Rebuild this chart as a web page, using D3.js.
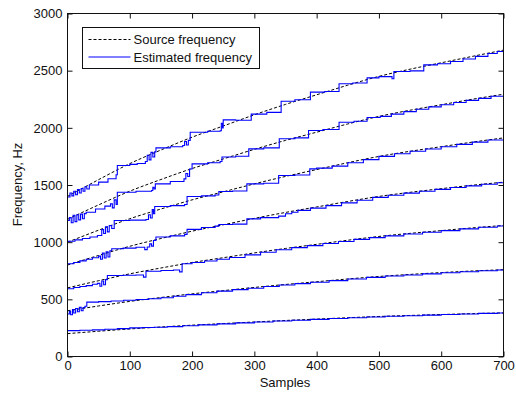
<!DOCTYPE html>
<html>
<head>
<meta charset="utf-8">
<script src="https://cdn.jsdelivr.net/npm/d3@7"></script>
<style>
  body { margin: 0; background: #fff; }
  svg { display: block; font-family: "Liberation Sans", Arial, sans-serif; }
</style>
</head>
<body>
<svg id="chart" width="516" height="394"></svg>
<script>
// axis ticks
const xTicks = [0, 100, 200, 300, 400, 500, 600, 700];
const yTicks = [0, 500, 1000, 1500, 2000, 2500, 3000];

// source frequency of each harmonic, read every 50 samples
const sourceT = [0, 50, 100, 150, 200, 250, 300, 350, 400, 450, 500, 550, 600, 650, 700];
const source1 = [200, 221, 241, 258, 274, 288, 302, 315, 327, 339, 350, 359, 367, 375, 381];
const source2 = [400, 442, 482, 516, 548, 576, 604, 630, 654, 678, 700, 718, 734, 748, 759];
const source3 = [600, 663, 723, 774, 822, 864, 906, 945, 981, 1017, 1050, 1077, 1101, 1125, 1146];
const source4 = [800, 884, 964, 1032, 1096, 1152, 1208, 1260, 1308, 1356, 1400, 1436, 1468, 1498, 1525];
const source5 = [1000, 1105, 1205, 1290, 1370, 1440, 1510, 1575, 1635, 1695, 1750, 1795, 1835, 1875, 1912];
const source6 = [1200, 1326, 1446, 1548, 1644, 1728, 1812, 1890, 1962, 2034, 2100, 2154, 2202, 2250, 2294];
const source7 = [1400, 1547, 1687, 1806, 1918, 2016, 2114, 2205, 2289, 2373, 2450, 2513, 2569, 2625, 2680];

// estimated frequency, [sample, Hz] where the estimate changes
const est1 = [[0,226],[20,229],[40,233],[60,238],[80,244],[100,250],[120,253],[140,256],[160,261],[185,269],[210,277],
  [240,285],[270,294],[300,302],[330,310],[360,317],[390,325],[420,332],[450,339],[480,346],[510,352],[540,357],
  [570,362],[600,367],[630,372],[660,377],[690,380],[700,381]];
const est2 = [[0,372],[3,395],[5,365],[8,410],[10,380],[13,420],[16,392],[19,430],[22,400],[25,428],[28,440],[31,476],
  [50,480],[70,486],[90,492],[110,498],[130,505],[150,514],[170,527],[190,541],[215,557],[240,572],[265,585],[290,597],
  [315,612],[340,625],[365,637],[390,649],[420,664],[450,678],[480,692],[510,704],[540,713],[570,723],[600,733],
  [630,741],[660,750],[690,757],[700,759]];
const est3 = [[0,592],[10,604],[20,612],[30,620],[40,632],[48,640],[52,615],[55,660],[58,628],[61,672],[64,708],
  [90,710],[110,713],[122,694],[126,746],[150,752],[170,757],[180,740],[184,811],[200,822],[220,835],[240,850],
  [260,866],[285,889],[310,912],[335,934],[360,952],[385,970],[410,988],[435,1006],[460,1024],[485,1040],[510,1055],
  [540,1072],[570,1087],[600,1101],[630,1116],[660,1130],[690,1142],[700,1146]];
const est4 = [[0,811],[10,822],[20,836],[30,850],[40,864],[50,878],[53,850],[56,905],[59,862],[62,915],[65,870],
  [68,925],[71,942],[90,948],[110,955],[124,935],[128,958],[132,985],[135,965],[138,1015],[142,1045],[165,1055],
  [188,1068],[192,1112],[215,1128],[237,1140],[243,1154],[265,1158],[288,1204],[310,1215],[339,1228],[350,1248],
  [360,1262],[370,1278],[390,1298],[415,1320],[440,1344],[465,1367],[490,1392],[515,1411],[540,1429],[565,1445],
  [590,1462],[615,1478],[640,1492],[665,1506],[690,1520],[700,1525]];
const est5 = [[0,1008],[12,1020],[24,1032],[36,1045],[48,1058],[55,1110],[58,1076],[61,1135],[64,1090],[67,1146],
  [71,1120],[75,1189],[100,1193],[126,1198],[130,1240],[133,1212],[136,1285],[138,1250],[140,1312],[165,1320],
  [188,1330],[192,1400],[215,1405],[237,1412],[243,1443],[265,1447],[288,1510],[315,1515],[339,1583],[365,1588],
  [389,1641],[400,1648],[425,1665],[450,1695],[475,1722],[500,1750],[525,1773],[550,1795],[575,1815],[600,1835],
  [625,1855],[650,1875],[675,1894],[700,1912]];
const est6 = [[0,1189],[3,1215],[6,1170],[9,1235],[12,1180],[15,1240],[18,1195],[21,1245],[24,1205],[27,1250],
  [30,1262],[45,1290],[60,1315],[69,1335],[72,1300],[75,1370],[78,1330],[80,1437],[110,1445],[135,1452],[137,1480],
  [139,1465],[141,1510],[165,1530],[187,1554],[190,1600],[193,1575],[196,1640],[200,1685],[225,1695],[245,1705],
  [248,1745],[270,1752],[291,1816],[315,1825],[340,1904],[365,1912],[387,1977],[410,1985],[436,2049],[460,2058],
  [481,2090],[502,2100],[520,2120],[540,2142],[560,2163],[580,2183],[600,2202],[620,2221],[640,2240],[660,2258],
  [680,2276],[700,2294]];
const est7 = [[0,1395],[4,1430],[7,1405],[10,1445],[13,1415],[16,1460],[19,1430],[22,1470],[25,1445],[28,1485],
  [31,1465],[35,1500],[50,1525],[65,1555],[78,1590],[80,1670],[100,1680],[112,1688],[125,1705],[128,1760],[131,1720],
  [134,1785],[137,1745],[140,1790],[142,1825],[165,1835],[185,1845],[188,1880],[191,1850],[194,1890],[197,1962],
  [225,1970],[245,1975],[247,2040],[249,2000],[250,2070],[270,2066],[295,2120],[320,2135],[343,2233],[365,2245],
  [390,2312],[413,2318],[436,2385],[458,2392],[481,2437],[500,2448],[521,2429],[524,2493],[550,2498],[572,2551],
  [594,2560],[615,2580],[635,2602],[655,2625],[675,2650],[690,2667],[700,2680]];

const legendLabels = ["Source frequency", "Estimated frequency"];

const sources = [source1, source2, source3, source4, source5, source6, source7];
const estimates = [est1, est2, est3, est4, est5, est6, est7];

const margin = { top: 13, right: 13, bottom: 38, left: 67 };
const width = 516 - margin.left - margin.right;
const height = 394 - margin.top - margin.bottom;

const x = d3.scaleLinear().domain([0, 700]).range([0, width]);
const y = d3.scaleLinear().domain([0, 3000]).range([height, 0]);

const svg = d3.select("#chart");
const g = svg.append("g")
  .attr("transform", `translate(${margin.left + 0.5}, ${margin.top + 0.5})`);

g.append("clipPath").attr("id", "plot")
  .append("rect").attr("width", width).attr("height", height);

const plot = g.append("g").attr("clip-path", "url(#plot)");

// dashed source lines
const srcLine = d3.line()
  .x(d => x(d[0]))
  .y(d => y(d[1]))
  .curve(d3.curveMonotoneX);

sources.forEach(s => {
  plot.append("path")
    .datum(sourceT.map((t, i) => [t, s[i]]))
    .attr("fill", "none")
    .attr("stroke", "#000")
    .attr("stroke-width", 1)
    .attr("stroke-dasharray", "3,2")
    .attr("d", srcLine);
});

// blue estimate lines (staircase)
const estLine = d3.line()
  .x(d => x(d[0]))
  .y(d => y(d[1]))
  .curve(d3.curveStepAfter);

estimates.forEach(e => {
  plot.append("path")
    .datum(e)
    .attr("fill", "none")
    .attr("stroke", "#0000ff")
    .attr("stroke-width", 1.1)
    .attr("d", estLine);
});

// axes, ticks pointing inwards like matlab
const fontSize = "13px";
const fmt = d3.format("d");
g.append("g")
  .attr("transform", `translate(0, ${height})`)
  .call(d3.axisBottom(x).tickValues(xTicks).tickFormat(fmt).tickSize(-5).tickSizeOuter(0).tickPadding(4))
  .call(a => a.select(".domain").remove());
g.append("g")
  .call(d3.axisTop(x).tickValues(xTicks).tickSize(-5).tickSizeOuter(0).tickFormat(""))
  .call(a => a.select(".domain").remove());
g.append("g")
  .call(d3.axisLeft(y).tickValues(yTicks).tickFormat(fmt).tickSize(-5).tickSizeOuter(0).tickPadding(5))
  .call(a => a.select(".domain").remove());
g.append("g")
  .attr("transform", `translate(${width}, 0)`)
  .call(d3.axisRight(y).tickValues(yTicks).tickSize(-5).tickSizeOuter(0).tickFormat(""))
  .call(a => a.select(".domain").remove());

g.selectAll(".tick text")
  .style("font-size", fontSize)
  .style("font-family", "'Liberation Sans', Arial, sans-serif")
  .attr("fill", "#111");
g.selectAll(".tick line").attr("stroke", "#111");

// frame
g.append("rect")
  .attr("width", width)
  .attr("height", height)
  .attr("fill", "none")
  .attr("stroke", "#111");

// axis titles
svg.append("text")
  .attr("x", margin.left + width / 2)
  .attr("y", 387)
  .attr("text-anchor", "middle")
  .style("font-size", fontSize)
  .attr("fill", "#111")
  .text("Samples");

svg.append("text")
  .attr("transform", `translate(22, ${margin.top + height / 2}) rotate(-90)`)
  .attr("text-anchor", "middle")
  .style("font-size", fontSize)
  .attr("fill", "#111")
  .text("Frequency, Hz");

// legend
const legend = svg.append("g").attr("transform", "translate(82.5, 27.5)");
legend.append("rect")
  .attr("width", 177)
  .attr("height", 41)
  .attr("fill", "#fff")
  .attr("stroke", "#111");

legendLabels.forEach((label, i) => {
  const ly = 12 + i * 17.5;
  legend.append("line")
    .attr("x1", 6).attr("x2", 48)
    .attr("y1", ly).attr("y2", ly)
    .attr("stroke", i === 0 ? "#000" : "#0000ff")
    .attr("stroke-width", 1)
    .attr("stroke-dasharray", i === 0 ? "3,2" : null);
  legend.append("text")
    .attr("x", 51)
    .attr("y", ly + 4.5)
    .style("font-size", fontSize)
    .attr("fill", "#111")
    .text(label);
});
</script>
</body>
</html>
